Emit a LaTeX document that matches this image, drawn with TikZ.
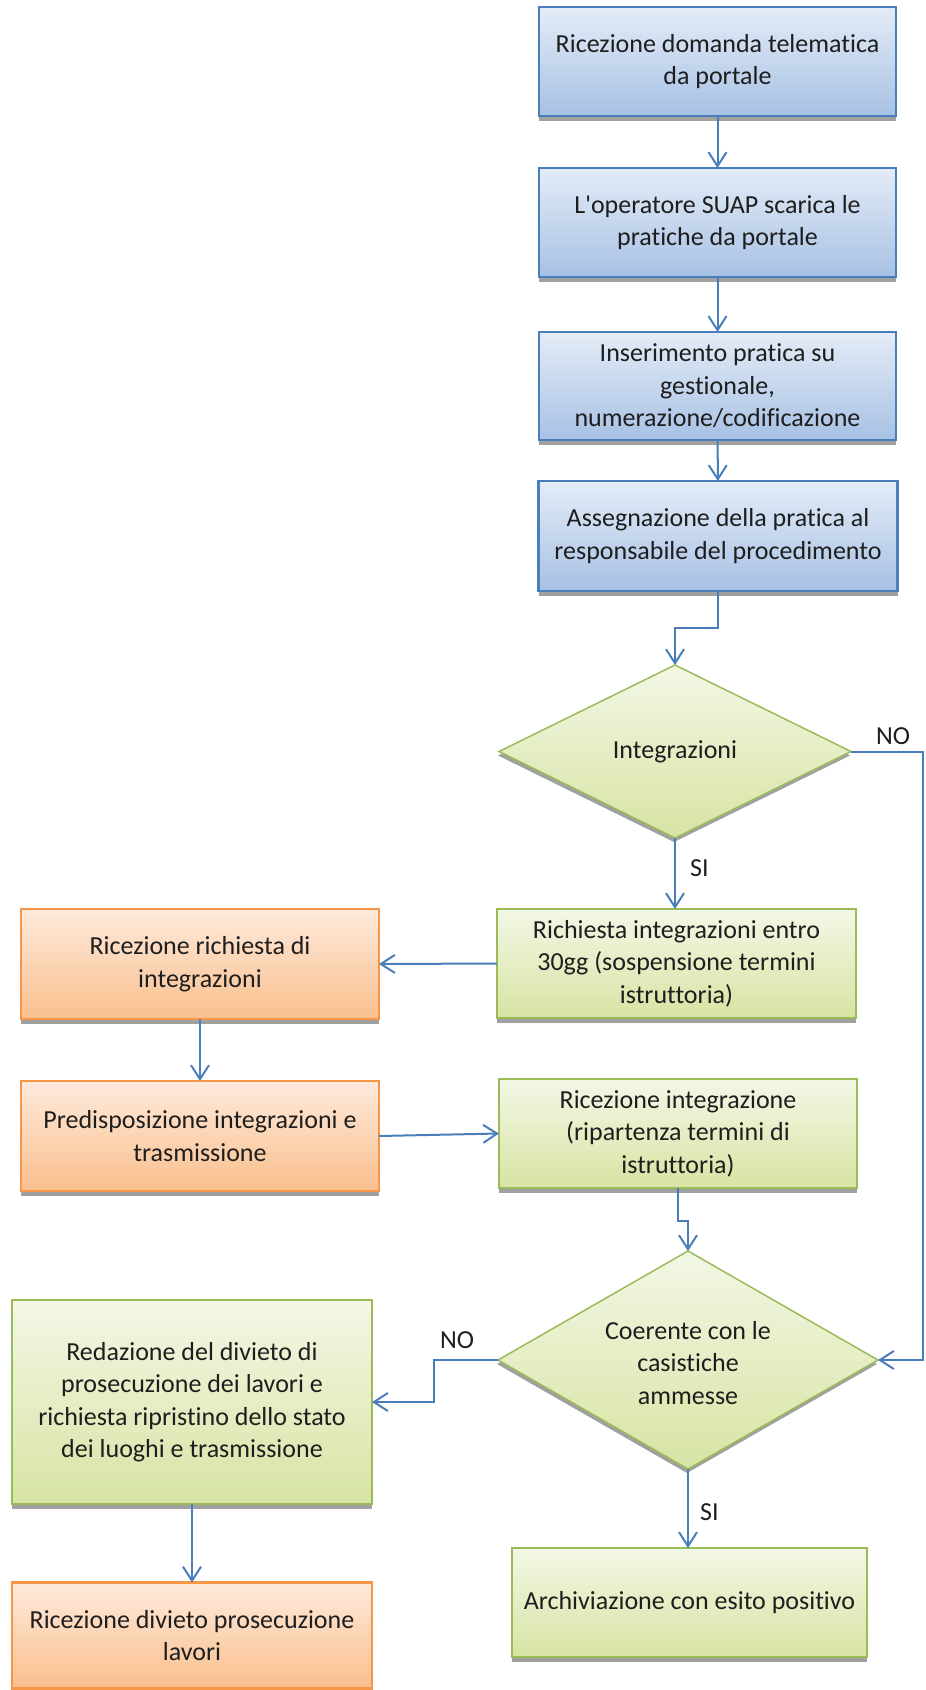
\documentclass[tikz,border=0pt]{standalone}
\usepackage{fontspec}
\setmainfont{Carlito}[Ligatures={TeX,NoCommon}]
\usetikzlibrary{shapes.geometric,arrows.meta,shadows}
\definecolor{txt}{HTML}{1E1E1E}
\definecolor{bluetop}{HTML}{E4ECF7}
\definecolor{bluebot}{HTML}{A7C1E4}
\definecolor{blueline}{HTML}{4A7EBB}
\definecolor{greentop}{HTML}{F3F7E6}
\definecolor{greenbot}{HTML}{D7E4A3}
\definecolor{greenline}{HTML}{9BBB59}
\definecolor{orangetop}{HTML}{FEEADC}
\definecolor{orangebot}{HTML}{FABF8D}
\definecolor{orangeline}{HTML}{F79646}
\definecolor{arrowc}{HTML}{4A7EBB}
\definecolor{shadowc}{HTML}{A0A0A0}
\tikzset{
  base/.style={rectangle, outer sep=0pt, inner sep=2pt, align=center, text=txt,
    font=\fontsize{26}{32.5}\selectfont, line width=2.5pt,
    drop shadow={shadow xshift=0pt, shadow yshift=-5pt, fill=shadowc, opacity=1}},
  bluebox/.style={base, draw=blueline, top color=bluetop, bottom color=bluebot},
  greenbox/.style={base, draw=greenline, top color=greentop, bottom color=greenbot},
  orangebox/.style={base, draw=orangeline, top color=orangetop, bottom color=orangebot},
  decision/.style={diamond, outer sep=0pt, inner sep=0pt, line width=1.5pt, draw=greenline,
    top color=greentop, bottom color=greenbot,
    drop shadow={shadow xshift=-1pt, shadow yshift=-4pt, fill=shadowc, opacity=1}},
  dtext/.style={align=center, text=txt, font=\fontsize{26}{32.5}\selectfont, inner sep=0pt},
  conn/.style={draw=arrowc, line width=2pt, -{Straight Barb[length=14pt,width=18pt]}},
  lbl/.style={text=txt, font=\fontsize{26}{32.5}\selectfont, inner sep=0pt}
}
\begin{document}
\begin{tikzpicture}[x=1pt,y=-1pt]
\useasboundingbox (0,0) rectangle (926,1690);
% blue chain
\node[bluebox, minimum width=357pt, minimum height=109pt] (b1) at (717.5,61.5) {Ricezione domanda telematica\\da portale};
\node[bluebox, minimum width=357pt, minimum height=109pt] (b2) at (717.5,222.5) {L\textquotesingle operatore SUAP scarica le\\pratiche da portale};
\node[bluebox, minimum width=357pt, minimum height=108pt] (b3) at (717.5,386) {Inserimento pratica su\\gestionale,\\numerazione/codificazione};
\node[bluebox, minimum width=359pt, minimum height=110pt] (b4) at (718,536) {Assegnazione della pratica al\\responsabile del procedimento};
% decisions
\node[decision, minimum width=352pt, minimum height=173pt] (d1) at (675,751.5) {};
\node[dtext] (d1t) at (d1.center) {Integrazioni};
\node[decision, minimum width=380pt, minimum height=218pt] (d2) at (688,1360) {};
\node[dtext] (d2t) at (688,1363) {Coerente con le\\casistiche\\ammesse};
% green boxes
\node[greenbox, minimum width=359pt, minimum height=109pt] (g1) at (676.5,963.5) {Richiesta integrazioni entro\\30gg (sospensione termini\\istruttoria)};
\node[greenbox, minimum width=358pt, minimum height=109pt] (g2) at (678,1133.5) {Ricezione integrazione\\(ripartenza termini di\\istruttoria)};
\node[greenbox, minimum width=360pt, minimum height=204pt] (r1) at (192,1402) {Redazione del divieto di\\prosecuzione dei lavori e\\richiesta ripristino dello stato\\dei luoghi e trasmissione};
\node[greenbox, minimum width=355pt, minimum height=109pt] (a1) at (689.5,1602.5) {Archiviazione con esito positivo};
% orange boxes
\node[orangebox, minimum width=358pt, minimum height=110pt] (o1) at (200,964) {Ricezione richiesta di\\integrazioni};
\node[orangebox, minimum width=358pt, minimum height=110pt] (o2) at (200,1136) {Predisposizione integrazioni e\\trasmissione};
\node[orangebox, minimum width=360pt, minimum height=106pt] (o3) at (192,1635.5) {Ricezione divieto prosecuzione\\lavori};
% connectors
\draw[conn] (b1) -- (b2);
\draw[conn] (b2) -- (b3);
\draw[conn] (b3) -- (b4);
\draw[conn] (b4.south) -- ++(0,37) -| (d1.north);
\draw[conn] (d1.south) -- (d1.south |- g1.north);
\node[lbl, anchor=west] (si1) at (690,868) {SI};
\draw[conn] (d1.east) -- ++(72,0) |- (d2.east);
\node[lbl] (no1) at (893,736) {NO};
\draw[conn] (g1.west) -- (o1.east);
\draw[conn] (o1) -- (o2);
\draw[conn] (o2.east) -- (g2.west);
\draw[conn] (g2.south) -- ++(0,33) -| (d2.north);
\draw[conn] (d2.west) -- ++(-64,0) |- (r1.east);
\node[lbl] (no2) at (457,1340) {NO};
\draw[conn] (d2.south) -- (d2.south |- a1.north);
\node[lbl, anchor=west] (si2) at (700,1512) {SI};
\draw[conn] (r1) -- (o3);
\end{tikzpicture}
\end{document}
